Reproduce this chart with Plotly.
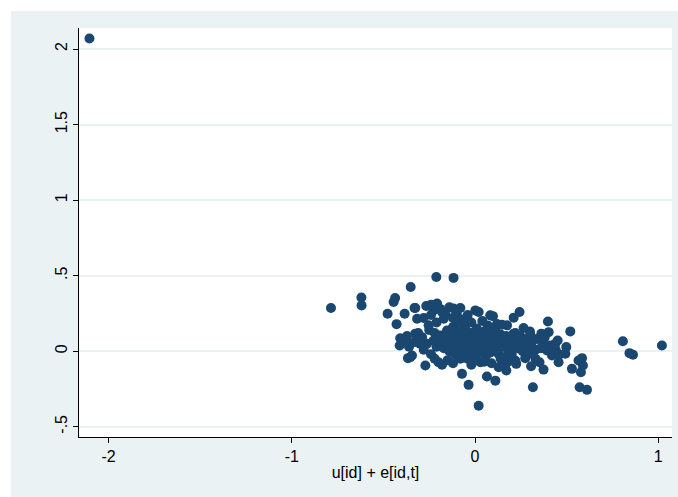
import plotly.graph_objects as go

# Composite residual u[id] + e[id,t] against the second variable
resid_x = [
    -2.104, -0.786, -0.620, -0.619, -0.351, -0.211, -0.117, -0.436, -0.444, -0.477,
    -0.384, -0.330, -0.428, -0.316, -0.408, -0.411, -0.371, -0.326, -0.353, -0.366,
    -0.326, -0.266, -0.240, -0.207, -0.226, -0.180, -0.253, -0.117, -0.080, 0.002,
    0.020, 0.083, -0.171, -0.098, -0.289, -0.262, -0.226, -0.189, -0.153, -0.344,
    -0.271, -0.199, -0.180, -0.071, -0.035, 0.065, 0.020, -0.080, 0.029, 0.098,
    0.243, 0.211, 0.147, 0.175, 0.265, 0.398, 0.402, 0.362, 0.302, 0.211,
    0.247, 0.284, 0.374, 0.411, 0.451, 0.393, 0.420, 0.456, 0.292, 0.274,
    0.220, 0.225, 0.165, 0.171, 0.129, 0.111, 0.306, 0.352, 0.374, 0.316,
    0.520, 0.438, 0.498, 0.493, 0.429, 0.462, 0.584, 0.565, 0.589, 0.578,
    0.529, 0.571, 0.611, 0.807, 0.843, 0.862, 1.020,
    -0.19, -0.17, -0.16, -0.15, -0.14, -0.14, -0.13, -0.12, -0.12, -0.11,
    -0.11, -0.10, -0.10, -0.09, -0.09, -0.08, -0.08, -0.07, -0.07, -0.06,
    -0.06, -0.05, -0.05, -0.04, -0.04, -0.03, -0.03, -0.02, -0.02, -0.01,
    -0.01, 0.00, 0.00, 0.00, 0.01, 0.01, 0.02, 0.02, 0.03, 0.03,
    0.04, 0.04, 0.05, 0.05, 0.06, 0.06, 0.07, 0.07, 0.08, 0.08,
    0.09, 0.09, 0.10, 0.10, 0.11, 0.11, 0.12, 0.12, 0.13, 0.13,
    0.14, 0.15, 0.15, 0.16, 0.17, 0.17, 0.18, 0.19, 0.20, 0.20,
    0.22, 0.23, 0.24, 0.25, 0.26, 0.27, 0.29, 0.31, 0.33, 0.34,
    -0.28, -0.24, -0.21, -0.19, -0.16, -0.14, -0.12, -0.10, -0.07, -0.04,
    -0.02, 0.04, 0.07, 0.12, -0.25, -0.22, -0.30, -0.28, -0.24, -0.21,
    -0.33, -0.36, -0.38, -0.31, -0.22, -0.15, -0.12, -0.02, 0.05, 0.09,
    0.14, 0.18, 0.22, 0.30, 0.28, 0.36, 0.38, 0.44, 0.33,
]
resid_y = [
    2.070, 0.286, 0.355, 0.303, 0.425, 0.491, 0.485, 0.352, 0.325, 0.248,
    0.248, 0.286, 0.179, 0.215, 0.086, 0.038, 0.100, 0.116, -0.040, -0.046,
    0.286, 0.299, 0.308, 0.315, 0.270, 0.259, 0.171, 0.282, 0.286, 0.270,
    0.259, 0.237, 0.215, 0.226, 0.093, 0.049, 0.071, 0.104, 0.137, -0.029,
    -0.095, -0.073, -0.090, -0.150, -0.223, -0.168, -0.361, -0.050, -0.073, 0.232,
    0.259, 0.222, 0.175, 0.171, 0.153, 0.197, 0.126, 0.116, 0.109, 0.116,
    0.100, 0.060, 0.049, 0.038, 0.071, 0.005, -0.029, -0.073, -0.011, -0.046,
    -0.062, -0.084, -0.095, -0.128, -0.106, -0.195, -0.100, -0.073, -0.122, -0.239,
    0.131, 0.049, 0.027, -0.017, -0.017, -0.022, -0.046, -0.062, -0.095, -0.139,
    -0.117, -0.239, -0.256, 0.066, -0.013, -0.024, 0.038,
    0.06, 0.02, 0.09, 0.04, 0.00, 0.12, 0.07, 0.16, 0.03, -0.02,
    0.10, 0.05, 0.19, 0.00, 0.13, 0.08, -0.04, 0.03, 0.11, 0.17,
    -0.01, 0.06, 0.14, 0.02, -0.05, 0.09, 0.04, 0.12, -0.02, 0.07,
    0.01, 0.10, 0.04, -0.04, 0.15, 0.06, 0.02, 0.09, -0.01, 0.12,
    0.05, 0.08, 0.01, 0.13, 0.06, -0.03, 0.10, 0.03, 0.07, -0.01,
    0.12, 0.04, 0.08, 0.00, 0.05, 0.14, 0.02, 0.09, -0.02, 0.06,
    0.11, 0.03, 0.07, -0.04, 0.05, 0.10, 0.01, 0.08, 0.04, -0.02,
    0.07, 0.02, 0.10, 0.05, 0.00, 0.08, 0.03, 0.06, 0.01, 0.08,
    0.22, 0.24, 0.19, 0.28, 0.24, 0.29, 0.22, 0.25, 0.21, 0.24,
    0.19, 0.20, 0.17, 0.18, 0.14, 0.12, 0.05, 0.01, -0.02, 0.03,
    0.06, 0.03, 0.07, 0.12, -0.05, -0.06, -0.08, -0.09, -0.07, -0.08,
    -0.05, -0.07, 0.12, 0.13, -0.03, 0.02, 0.09, 0.01, -0.05,
]

x_ticks = [-2, -1, 0, 1]
x_labels = ["-2", "-1", "0", "1"]
y_ticks = [-0.5, 0, 0.5, 1, 1.5, 2]
y_labels = ["-.5", "0", ".5", "1", "1.5", "2"]

navy = "#1A476F"
bg = "#EAF2F3"
font = "Liberation Sans, Arial, sans-serif"

fig = go.Figure(
    go.Scatter(
        x=resid_x, y=resid_y, mode="markers",
        marker=dict(color=navy, size=10, line=dict(width=0)),
        showlegend=False, cliponaxis=False,
    )
)

fig.update_layout(
    width=678, height=497,
    margin=dict(l=79, r=6, t=28, b=60),
    paper_bgcolor=bg, plot_bgcolor="white",
    font=dict(family=font, size=16, color="black"),
    shapes=[
        # white border strips along the top and left edges
        dict(type="rect", xref="paper", yref="paper", x0=-0.3, x1=1.2,
             y0=1.0416, y1=1.3, fillcolor="white", line=dict(width=0), layer="below"),
        dict(type="rect", xref="paper", yref="paper", x0=-0.3, x1=-0.1147,
             y0=-0.4, y1=1.3, fillcolor="white", line=dict(width=0), layer="below"),
    ],
)

fig.update_xaxes(
    range=[-2.161, 1.075], tickvals=x_ticks, ticktext=x_labels,
    showgrid=False, zeroline=False,
    showline=True, linecolor="black", linewidth=1,
    ticks="outside", ticklen=5, tickcolor="black", tickwidth=1,
    tickfont=dict(size=16),
    title=dict(text="u[id] + e[id,t]", font=dict(size=16), standoff=2),
)
fig.update_yaxes(
    range=[-0.568, 2.139], tickvals=y_ticks, ticktext=y_labels,
    showgrid=True, gridcolor=bg, gridwidth=1.5, zeroline=False,
    showline=True, linecolor="black", linewidth=1,
    ticks="outside", ticklen=5, tickcolor="black", tickwidth=1,
    tickangle=-90, tickfont=dict(size=16),
)

fig.write_html("out.html")
